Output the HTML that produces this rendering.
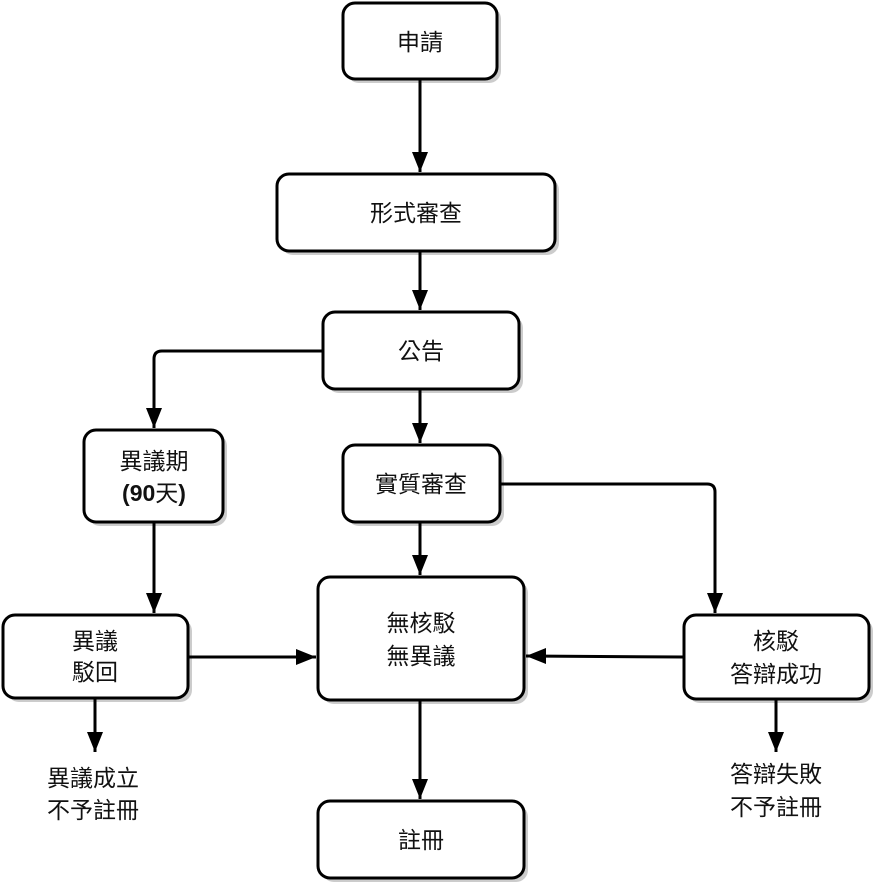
<!DOCTYPE html>
<html><head><meta charset="utf-8"><style>
html,body{margin:0;padding:0;background:#fff;}
svg text{font-family:"Liberation Sans","Noto Sans CJK TC",sans-serif;font-size:23px;fill:#111;text-anchor:middle;}
</style></head><body>
<svg width="875" height="886" viewBox="0 0 875 886" xmlns="http://www.w3.org/2000/svg">
<defs>
<marker id="a" viewBox="0 0 10 10" refX="9" refY="5" markerWidth="5" markerHeight="5" orient="auto" markerUnits="userSpaceOnUse" style="overflow:visible">
<path d="M0,0 L10,5 L0,10 z" fill="#000" transform="scale(1.6) translate(-4,-1.9)"/>
</marker>
</defs>
<g fill="#ccc">
<rect x="347" y="7" width="154" height="76" rx="12"/>
<rect x="281" y="178" width="278" height="77" rx="12"/>
<rect x="327" y="316" width="196" height="77" rx="12"/>
<rect x="88" y="434" width="139" height="92" rx="12"/>
<rect x="347" y="449" width="157" height="77" rx="12"/>
<rect x="7" y="619" width="185" height="83" rx="12"/>
<rect x="322" y="581" width="206" height="123" rx="12"/>
<rect x="688" y="619" width="185" height="84" rx="12"/>
<rect x="322" y="805" width="206" height="77" rx="12"/>
</g>
<g fill="#fff" stroke="#000" stroke-width="3">
<rect x="343" y="3" width="154" height="76" rx="12"/>
<rect x="277" y="174" width="278" height="77" rx="12"/>
<rect x="323" y="312" width="196" height="77" rx="12"/>
<rect x="84" y="430" width="139" height="92" rx="12"/>
<rect x="343" y="445" width="157" height="77" rx="12"/>
<rect x="3" y="615" width="185" height="83" rx="12"/>
<rect x="318" y="577" width="206" height="123" rx="12"/>
<rect x="684" y="615" width="185" height="84" rx="12"/>
<rect x="318" y="801" width="206" height="77" rx="12"/>
</g>
<g fill="none" stroke="#000" stroke-width="3">
<path d="M420 79 V172"/>
<path d="M420 251 V310"/>
<path d="M420 389 V443"/>
<path d="M323 351 H162 Q154 351 154 359 V428"/>
<path d="M154 522 V613"/>
<path d="M420 522 V575"/>
<path d="M500 484 H707 Q715 484 715 492 V613"/>
<path d="M188 657 H316"/>
<path d="M684 657 L526 656"/>
<path d="M420 700 V799"/>
<path d="M95 698 V752"/>
<path d="M776 699 V752"/>
</g>
<g fill="#000">
<path d="M420 172 l-8 -20 h16 z"/>
<path d="M420 310 l-8 -20 h16 z"/>
<path d="M420 443 l-8 -20 h16 z"/>
<path d="M154 428 l-8 -20 h16 z"/>
<path d="M154 613 l-8 -20 h16 z"/>
<path d="M420 575 l-8 -20 h16 z"/>
<path d="M715 613 l-8 -20 h16 z"/>
<path d="M316 657 l-20 -8 v16 z"/>
<path d="M526 656 l20 -8 v16 z"/>
<path d="M420 799 l-8 -20 h16 z"/>
<path d="M95 752 l-8 -20 h16 z"/>
<path d="M776 752 l-8 -20 h16 z"/>
</g>
<text x="420" y="50">申請</text>
<text x="416" y="221">形式審查</text>
<text x="421" y="359">公告</text>
<text x="154" y="469">異議期</text>
<text x="154" y="501"><tspan font-weight="bold">(90</tspan>天<tspan font-weight="bold">)</tspan></text>
<text x="421" y="492">實質審查</text>
<text x="95" y="649">異議</text>
<text x="95" y="680">駁回</text>
<text x="421" y="631">無核駁</text>
<text x="421" y="664">無異議</text>
<text x="776" y="649">核駁</text>
<text x="776" y="682">答辯成功</text>
<text x="421" y="848">註冊</text>
<text x="93" y="786">異議成立</text>
<text x="93" y="818">不予註冊</text>
<text x="776" y="782">答辯失敗</text>
<text x="776" y="815">不予註冊</text>
</svg>
</body></html>
